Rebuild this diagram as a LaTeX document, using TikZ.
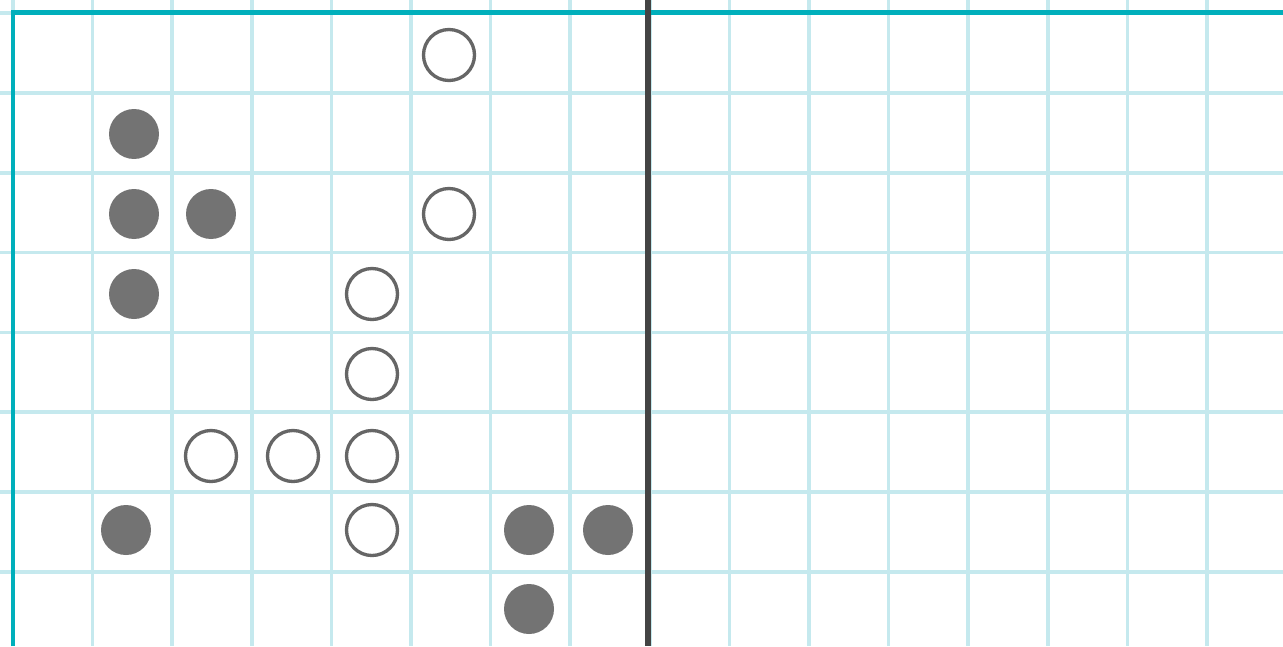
\documentclass[tikz,border=0pt]{standalone}
\usepackage{tikz}
\definecolor{gridc}{HTML}{C5E9EE}
\definecolor{borderc}{HTML}{00AFBB}
\definecolor{darkc}{HTML}{444444}
\definecolor{dotc}{HTML}{737373}
\definecolor{ringc}{HTML}{666666}
\tikzset{
  gridline/.style={draw=gridc, line width=2.1pt},
  borderline/.style={draw=borderc, line width=2.3pt},
  divider/.style={draw=darkc, line width=3pt},
  stone/.style={circle, fill=dotc, draw=none, minimum size=1cm, inner sep=0pt},
  hollow/.style={circle, draw=ringc, line width=1.9pt, fill=white, minimum size=1.02cm, inner sep=0pt},
}
\begin{document}
\begin{tikzpicture}[x=0.02cm, y=-0.02cm]
\useasboundingbox (0,0) rectangle (1283,646);
\fill[white] (0,0) rectangle (1283,646);
% grid
\foreach \k in {0,...,16} {
  \draw[gridline] ({13+79.6*\k},0) -- ({13+79.6*\k},646);
}
\foreach \k in {0,...,8} {
  \draw[gridline] (0,{13+79.86*\k}) -- (1283,{13+79.86*\k});
}
% border
\draw[borderline] (13,646) -- (13,12.5) -- (1283,12.5);
% divider
\draw[divider] (648,0) -- (648,646);
% open circles
\node[hollow] (o1) at (449,55) {};
\node[hollow] (o2) at (449,214) {};
\node[hollow] (o3) at (372,294) {};
\node[hollow] (o4) at (372,374) {};
\node[hollow] (o5) at (211,456) {};
\node[hollow] (o6) at (293,456) {};
\node[hollow] (o7) at (372,456) {};
\node[hollow] (o8) at (372,530) {};
% filled circles
\node[stone] (f1) at (134,134) {};
\node[stone] (f2) at (134,214) {};
\node[stone] (f3) at (211,214) {};
\node[stone] (f4) at (134,294) {};
\node[stone] (f5) at (126,530) {};
\node[stone] (f6) at (529,530) {};
\node[stone] (f7) at (608,530) {};
\node[stone] (f8) at (529,609) {};
\end{tikzpicture}
\end{document}
